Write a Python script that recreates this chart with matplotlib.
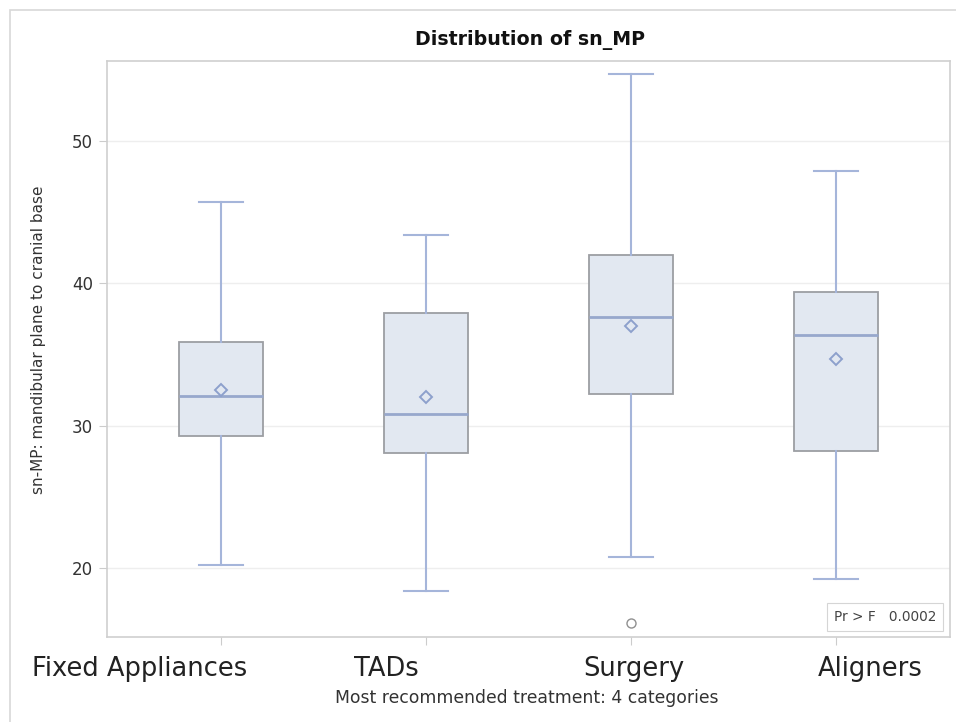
import matplotlib
matplotlib.use("Agg")
import matplotlib.pyplot as plt
from matplotlib.patches import Rectangle
from matplotlib.transforms import ScaledTranslation

plt.rcParams['font.family'] = ['DejaVu Sans']

categories = ["Fixed Appliances", "TADs", "Surgery", "Aligners"]
whislo = [20.2, 18.4, 20.8, 19.2]
q1 = [29.3, 28.1, 32.2, 28.2]
med = [32.1, 30.8, 37.6, 36.4]
q3 = [35.9, 37.9, 42.0, 39.4]
whishi = [45.7, 43.4, 54.7, 47.9]
means = [32.5, 32.0, 37.0, 34.7]
outliers = [[], [], [16.1], []]
yticks = [20, 30, 40, 50]
title = "Distribution of sn_MP"
ylabel = "sn-MP: mandibular plane to cranial base"
xlabel = "Most recommended treatment: 4 categories"
stat_text = "Pr > F   0.0002"

# layout: horizontal pixel shifts of the category labels relative to their ticks
label_shift_px = [-81, -40, 3, 34]

fig = plt.figure(figsize=(9.56, 7.22), dpi=100)
fig.patches.append(Rectangle((10/956, -0.1), 1.1, (722-10)/722 + 0.1, transform=fig.transFigure,
                             fill=False, edgecolor='#d8d8d8', linewidth=1.2))
ax = fig.add_axes([107/956, 1-637/722, (950-107)/956, (637-61)/722])

stats = []
for i, c in enumerate(categories):
    stats.append(dict(label=c, whislo=whislo[i], q1=q1[i], med=med[i], q3=q3[i],
                      whishi=whishi[i], mean=means[i], fliers=outliers[i]))

wcol = '#a5b5da'
ax.bxp(stats, positions=range(len(categories)), widths=0.41, patch_artist=True,
       showmeans=True, showfliers=True,
       boxprops=dict(facecolor='#e2e8f1', edgecolor='#9c9ea3', linewidth=1.3),
       medianprops=dict(color='#97a8cc', linewidth=2.0),
       whiskerprops=dict(color=wcol, linewidth=1.5),
       capprops=dict(color=wcol, linewidth=1.5),
       capwidths=0.21,
       meanprops=dict(marker='D', markerfacecolor='none', markeredgecolor='#8da0cc',
                      markersize=5.8, markeredgewidth=1.4),
       flierprops=dict(marker='o', markerfacecolor='none', markeredgecolor='#909090',
                       markersize=6.5, markeredgewidth=1.0))

ax.set_xlim(-0.556, 3.556)
ax.set_ylim(15.15, 55.62)
ax.tick_params(axis='both', length=6, color='#cccccc', width=0.8)
ax.tick_params(axis='y', pad=4)
ax.tick_params(axis='x', pad=8)
ax.set_yticks(yticks)
ax.set_yticklabels([str(t) for t in yticks], fontsize=12, color='#333333')
ax.set_xticks(range(len(categories)))
ax.set_xticklabels(categories, fontsize=18.5, color='#222222')
for lbl, dx in zip(ax.get_xticklabels(), label_shift_px):
    lbl.set_transform(lbl.get_transform() + ScaledTranslation(dx/100, 0, fig.dpi_scale_trans))
ax.grid(axis='y', color='#eeeeee', linewidth=1.0)
ax.set_axisbelow(True)
for s in ax.spines.values():
    s.set_color('#cfcfcf')
    s.set_linewidth(1.2)

fig.text(530/956, 1-40/722, title, ha='center', va='center', fontsize=13.7,
         fontweight='bold', color='#111111')
fig.text(39/956, 1-340/722, ylabel, ha='center', va='center', rotation=90,
         fontsize=11, color='#333333')
fig.text(527/956, 1-698/722, xlabel, ha='center', va='center', fontsize=12.4,
         color='#333333')
ax.text(0.9834, 0.0226, stat_text, transform=ax.transAxes, ha='right', va='bottom',
        fontsize=9.8, color='#444444',
        bbox=dict(boxstyle='square,pad=0.5', facecolor='white', edgecolor='#d5d5d5', linewidth=0.8))

fig.savefig("out.png", dpi=100)
